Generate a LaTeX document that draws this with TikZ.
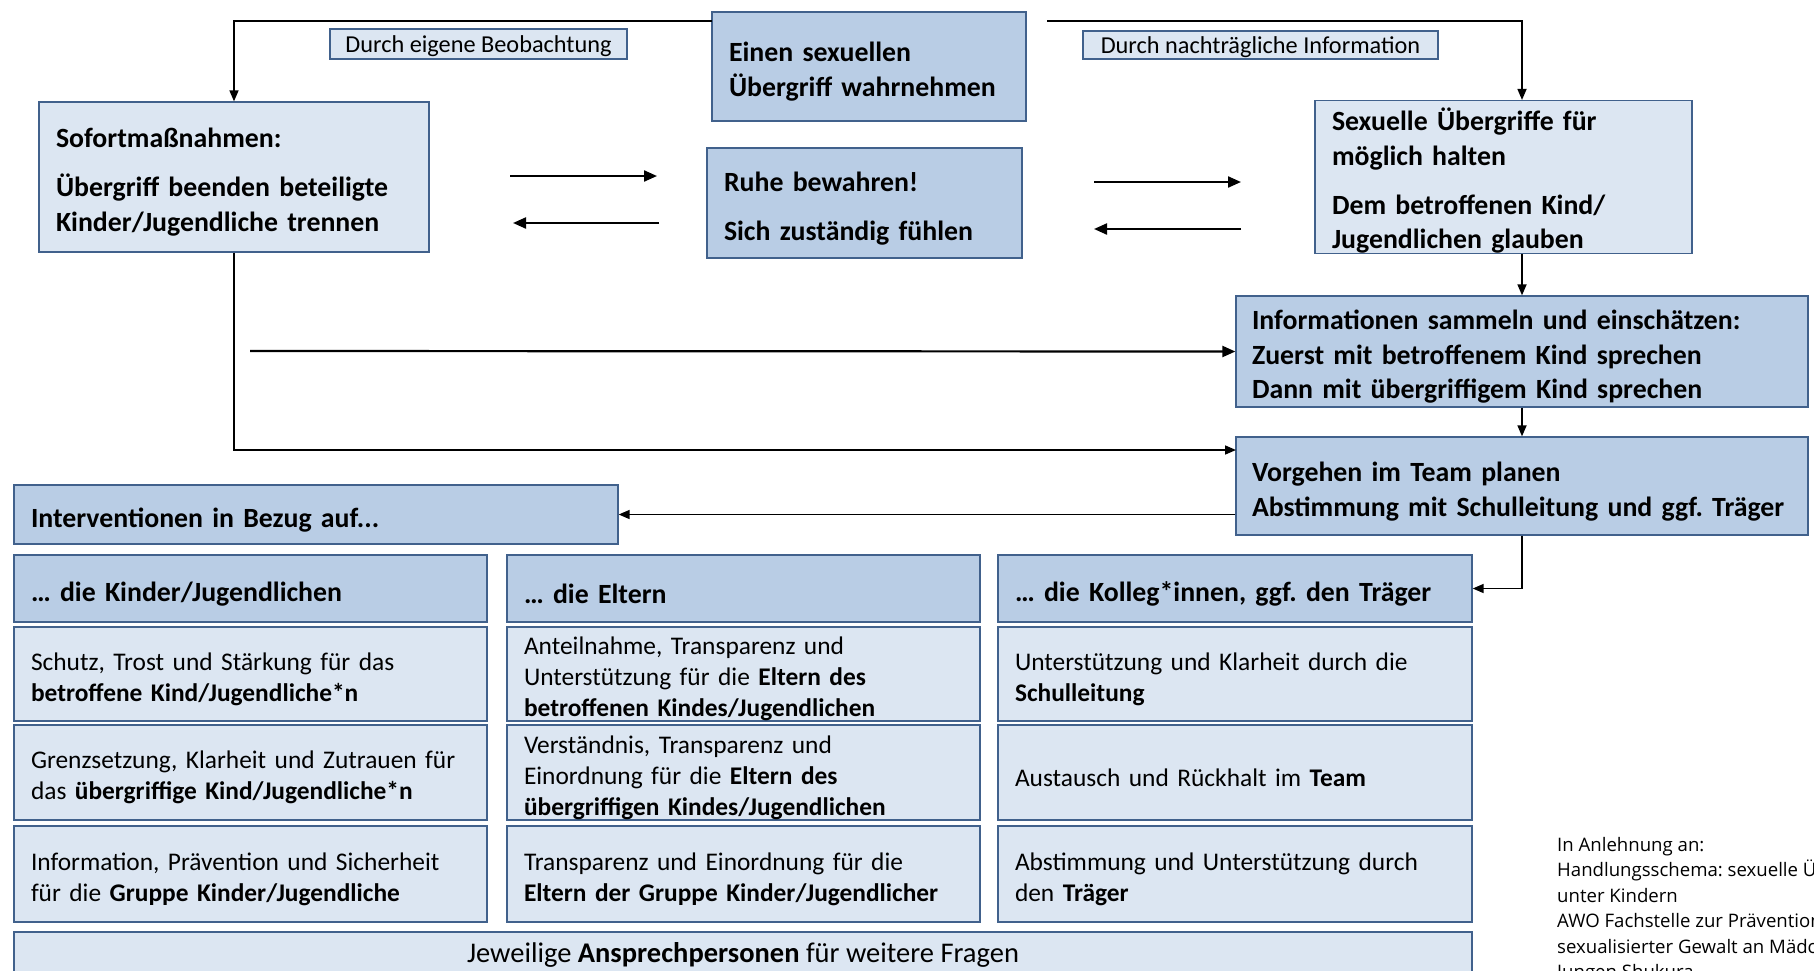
\documentclass[tikz,border=0pt]{standalone}
\usepackage{fontspec}
\setmainfont{Carlito}
\newfontfamily\notefont{Open Sans}
\usepackage{xcolor}
\usetikzlibrary{arrows.meta}
\definecolor{boxmid}{HTML}{B9CDE5}
\definecolor{boxlight}{HTML}{DCE6F2}
\definecolor{boxline}{HTML}{41618C}
\frenchspacing

\begin{document}
\begin{tikzpicture}[x=1pt,y=-1pt]
\tikzset{box/.style={draw=boxline,line width=1.3pt,inner xsep=17pt,inner ysep=0pt,align=left,execute at begin node={\rule{0pt}{1.08em}}}}
\tikzset{midbox/.style={box,fill=boxmid}}
\tikzset{lightbox/.style={box,fill=boxlight}}
\tikzset{bigtext/.style={font=\fontsize{27.8}{34.7}\selectfont\bfseries}}
\tikzset{celltext/.style={font=\fontsize{25.4}{31}\selectfont}}
\tikzset{tagbox/.style={draw=boxline,fill=boxlight,line width=1.3pt,inner sep=0pt,text height=22pt,text depth=6pt,font=\fontsize{24.3}{26}\selectfont}}
\tikzset{footbox/.style={draw=boxline,fill=boxlight,line width=1.3pt,align=center,font=\fontsize{28.5}{31}\selectfont}}
\tikzset{conn/.style={line width=1.6pt,-{Triangle[length=11pt,width=9pt]}}}
\tikzset{freearrow/.style={line width=2.2pt,-{Triangle[length=13pt,width=11pt]}}}

\useasboundingbox (0,0) rectangle (1814,970);

\node[midbox,bigtext,text width=280pt,minimum height=109pt] (wahr) at (869,66.5) {Einen sexuellen\\Übergriff wahrnehmen};
\node[lightbox,bigtext,text width=356pt,minimum height=150pt] (sofort) at (234,177) {Sofortmaßnahmen:\\[14pt]Übergriff beenden beteiligte\\Kinder/Jugendliche trennen};
\node[midbox,bigtext,text width=281pt,minimum height=110pt] (ruhe) at (864.5,203) {Ruhe bewahren!\\[14pt]Sich zuständig fühlen};
\node[lightbox,bigtext,text width=343pt,minimum height=150pt] (moeglich) at (1503.5,177) {Sexuelle Übergriffe für\\möglich halten\\[14pt]Dem betroffenen Kind/\\Jugendlichen glauben};
\node[midbox,bigtext,text width=540pt,minimum height=111pt,inner xsep=16pt] (info) at (1522,351.5) {Informationen sammeln und einschätzen:\\Zuerst mit betroffenem Kind sprechen\\Dann mit übergriffigem Kind sprechen};
\node[midbox,bigtext,text width=540pt,minimum height=98pt,inner xsep=16pt] (vorgehen) at (1522,486) {Vorgehen im Team planen\\Abstimmung mit Schulleitung und ggf. Träger};
\node[midbox,bigtext,text width=570pt,minimum height=59pt] (interv) at (316,514.5) {Interventionen in Bezug auf...};

\node[tagbox,minimum width=297pt,minimum height=30pt] (beob) at (478.5,44) {Durch eigene Beobachtung};
\node[tagbox,minimum width=355pt,minimum height=28pt] (nachtr) at (1260.5,45) {Durch nachträgliche Information};

\node[midbox,bigtext,text width=439pt,minimum height=67pt] (kinder) at (250.5,588.5) {… die Kinder/Jugendlichen};
\node[midbox,bigtext,text width=439pt,minimum height=67pt] (eltern) at (743.5,588.5) {… die Eltern};
\node[midbox,bigtext,text width=440pt,minimum height=67pt] (kolleg) at (1235,588.5) {… die Kolleg*innen, ggf. den Träger};

\node[lightbox,celltext,text width=439pt,minimum height=94pt] (kinderA) at (250.5,674) {Schutz, Trost und Stärkung für das\\\textbf{betroffene Kind/Jugendliche*n}};
\node[lightbox,celltext,text width=439pt,minimum height=95pt] (kinderB) at (250.5,772.5) {Grenzsetzung, Klarheit und Zutrauen für\\das \textbf{übergriffige Kind/Jugendliche*n}};
\node[lightbox,celltext,text width=439pt,minimum height=96pt] (kinderC) at (250.5,874) {Information, Prävention und Sicherheit\\für die \textbf{Gruppe Kinder/Jugendliche}};

\node[lightbox,celltext,text width=439pt,minimum height=94pt] (elternA) at (743.5,674) {Anteilnahme, Transparenz und\\Unterstützung für die \textbf{Eltern des}\\\textbf{betroffenen Kindes/Jugendlichen}};
\node[lightbox,celltext,text width=439pt,minimum height=95pt] (elternB) at (743.5,772.5) {Verständnis, Transparenz und\\Einordnung für die \textbf{Eltern des}\\\textbf{übergriffigen Kindes/Jugendlichen}};
\node[lightbox,celltext,text width=439pt,minimum height=96pt] (elternC) at (743.5,874) {Transparenz und Einordnung für die\\\textbf{Eltern der Gruppe Kinder/Jugendlicher}};

\node[lightbox,celltext,text width=440pt,minimum height=94pt] (kollegA) at (1235,674) {Unterstützung und Klarheit durch die\\\textbf{Schulleitung}};
\node[lightbox,celltext,text width=440pt,minimum height=95pt] (kollegB) at (1235,772.5) {Austausch und Rückhalt im \textbf{Team}};
\node[lightbox,celltext,text width=440pt,minimum height=96pt] (kollegC) at (1235,874) {Abstimmung und Unterstützung durch\\den \textbf{Träger}};

\node[footbox,minimum width=1458pt,minimum height=46pt] (ansprech) at (743,955) {Jeweilige \textbf{Ansprechpersonen} für weitere Fragen};

\node[anchor=north west,align=left,inner sep=0pt,font=\notefont\fontsize{18.6}{25.5}\selectfont] (quelle) at (1557,837) {In Anlehnung an:\\Handlungsschema: sexuelle Übergriffe\\unter Kindern\\AWO Fachstelle zur Prävention von\\sexualisierter Gewalt an Mädchen und\\Jungen Shukura};

\coordinate (wahrL) at (712,21);
\coordinate (wahrR) at (1047,21);
\coordinate (toSofortA) at (510,176);
\coordinate (toRuheA) at (657,176);
\coordinate (toSofortB) at (659,223);
\coordinate (toRuheB) at (513,223);
\coordinate (toMoeglichA) at (1094,182);
\coordinate (toMoeglichB) at (1241,182);
\coordinate (toRuheC) at (1241,229);
\coordinate (toRuheD) at (1094,229);
\coordinate (toInfo) at (250,351);
\coordinate (vorgehenL) at (1236,450);

\draw[conn] (wahrL) -| (sofort.north);
\draw[conn] (wahrR) -| (info.north |- moeglich.north);
\draw[conn] (info.north |- moeglich.south) -- (info.north);
\draw[conn] (info.south) -- (vorgehen.north);
\draw[conn] (sofort.south) |- (vorgehenL);
\draw[conn] (vorgehen.west |- interv.east) -- (interv.east);
\draw[conn] (vorgehen.south) |- (kolleg.east);

\draw[freearrow] (toSofortA) -- (toRuheA);
\draw[freearrow] (toSofortB) -- (toRuheB);
\draw[freearrow] (toMoeglichA) -- (toMoeglichB);
\draw[freearrow] (toRuheC) -- (toRuheD);
\draw[freearrow] (toInfo) -- (info.west);

\end{tikzpicture}
\end{document}
